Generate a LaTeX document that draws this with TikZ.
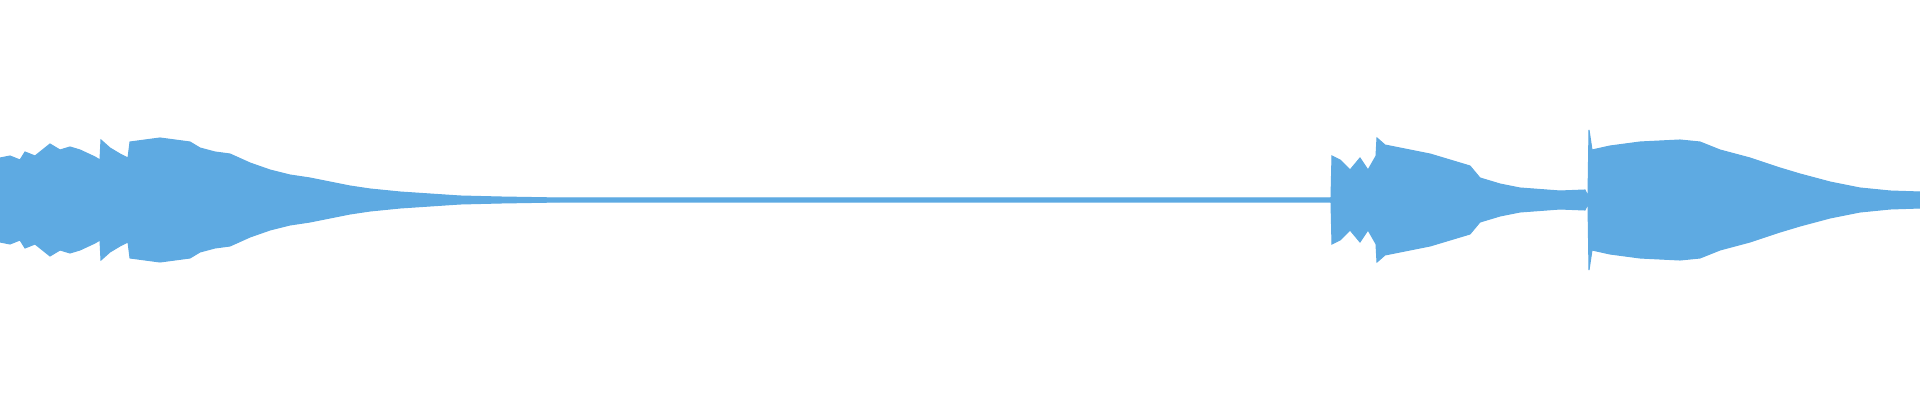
\documentclass[tikz,border=0pt]{standalone}
\definecolor{wavblue}{RGB}{94, 170, 226}
\tikzset{
    wave/.style={fill=wavblue, draw=wavblue, line width=0.3pt},
}
\begin{document}
\begin{tikzpicture}[x=0.01cm, y=0.01cm]
    \useasboundingbox (0,-200) rectangle (1920,200);
    % upper and lower envelope of the track
    \foreach \s in {1,-1} {
    \begin{scope}[yscale=\s]
        \fill[wave] plot coordinates {(0,0) (0,42) (10,44) (20,40) (25,48) (35,44) (45,52) (50,56)
            (60,50) (70,53) (80,50) (95,43) (100,40) (101,60) (110,52) (120,46) (128,42)
            (130,58) (145,60) (160,62) (175,60) (190,58) (200,52) (215,48) (230,46) (250,37)
            (270,30) (290,25) (310,22) (330,18) (350,14) (370,11) (400,8) (430,6) (460,4)
            (500,3) (560,2) (700,2) (1000,2) (1331,2)
            (1332,44) (1340,40) (1350,30) (1360,42) (1368,30) (1376,44) (1377,62) (1385,55)
            (1400,52) (1430,46) (1450,40) (1470,34) (1480,22) (1500,16) (1520,12) (1560,9)
            (1585,10) (1588,4) (1589,70) (1592,50) (1610,54) (1640,58) (1680,60) (1700,58)
            (1720,50) (1750,42) (1780,32) (1800,26) (1830,18) (1860,12) (1890,9) (1920,8)
            (1920,0)};
    \end{scope}
    }
    \draw[wavblue, line width=0.6pt] (0,0) -- (1920,0);
\end{tikzpicture}
\end{document}
